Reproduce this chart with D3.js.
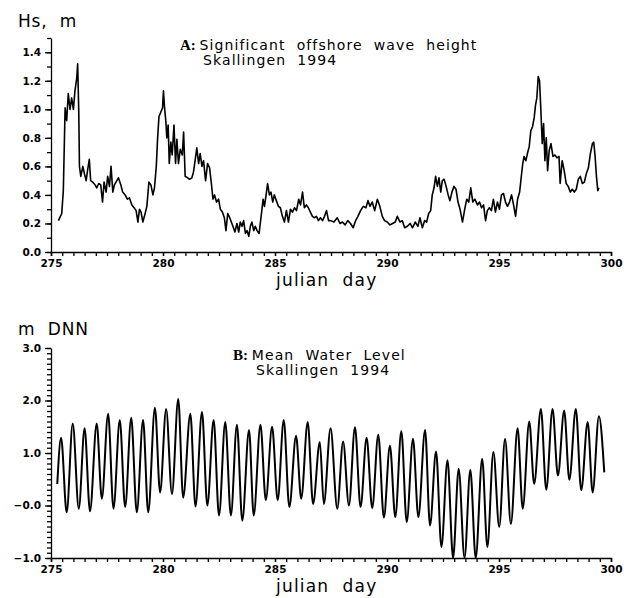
<!DOCTYPE html>
<html>
<head>
<meta charset="utf-8">
<script src="https://cdn.jsdelivr.net/npm/d3@7"></script>
<style>
  body { margin: 0; background: #fff; }
  text { font-family: "DejaVu Sans", sans-serif; fill: #000; white-space: pre; }
  .axis path, .axis line { stroke: #000; stroke-width: 1.3px; }
  .axis text { font-family: "DejaVu Sans", sans-serif; font-size: 10.5px; font-weight: bold; }
  .series { fill: none; stroke: #000; stroke-linejoin: round; }
</style>
</head>
<body>
<svg class="chart"></svg>
<script>
var W = 624, H = 598;

// julian day axis labels (both panels)
var dayTicks = [275, 280, 285, 290, 295, 300];
var hsTicks = [0.0, 0.2, 0.4, 0.6, 0.8, 1.0, 1.2, 1.4];
var wlTicks = [-1, 0, 1, 2, 3];

// A: significant offshore wave height, m
var hsDay = [275.33, 275.48, 275.55, 275.63, 275.70, 275.77, 275.85, 275.92, 276.00, 276.07,
  276.15, 276.19, 276.24, 276.27, 276.33, 276.42, 276.49, 276.57, 276.64, 276.71,
  276.77, 276.86, 276.97, 277.04, 277.13, 277.22, 277.30, 277.37, 277.46, 277.53,
  277.61, 277.68, 277.76, 277.83, 277.94, 278.01, 278.12, 278.20, 278.31, 278.41,
  278.50, 278.61, 278.71, 278.80, 278.88, 278.95, 279.02, 279.10, 279.17, 279.28,
  279.37, 279.46, 279.55, 279.62, 279.70, 279.76, 279.82, 279.90, 279.98, 280.02,
  280.07, 280.13, 280.17, 280.23, 280.28, 280.35, 280.41, 280.49, 280.56, 280.62,
  280.69, 280.77, 280.86, 280.92, 280.99, 281.10, 281.19, 281.29, 281.36, 281.44,
  281.51, 281.59, 281.66, 281.74, 281.81, 281.90, 281.99, 282.08, 282.16, 282.23,
  282.30, 282.39, 282.48, 282.56, 282.65, 282.74, 282.81, 282.89, 282.98, 283.05,
  283.12, 283.21, 283.30, 283.38, 283.45, 283.53, 283.60, 283.68, 283.75, 283.83,
  283.90, 283.97, 284.05, 284.12, 284.20, 284.29, 284.38, 284.47, 284.53, 284.62,
  284.67, 284.75, 284.82, 284.90, 284.97, 285.06, 285.15, 285.24, 285.33, 285.42,
  285.51, 285.60, 285.69, 285.78, 285.87, 285.96, 286.06, 286.14, 286.23, 286.31,
  286.40, 286.49, 286.58, 286.67, 286.76, 286.85, 286.94, 287.03, 287.12, 287.21,
  287.30, 287.39, 287.48, 287.63, 287.78, 287.90, 288.01, 288.13, 288.25, 288.37,
  288.49, 288.60, 288.70, 288.82, 288.94, 289.06, 289.15, 289.24, 289.34, 289.45,
  289.57, 289.68, 289.79, 289.89, 290.01, 290.13, 290.25, 290.37, 290.46, 290.58,
  290.68, 290.79, 290.91, 291.03, 291.14, 291.26, 291.38, 291.47, 291.58, 291.68,
  291.77, 291.86, 291.95, 292.02, 292.10, 292.17, 292.25, 292.32, 292.40, 292.47,
  292.55, 292.64, 292.73, 292.81, 292.90, 292.99, 293.08, 293.17, 293.26, 293.37,
  293.47, 293.56, 293.65, 293.74, 293.83, 293.92, 294.04, 294.13, 294.22, 294.31,
  294.40, 294.48, 294.57, 294.66, 294.75, 294.84, 294.93, 295.02, 295.11, 295.20,
  295.29, 295.38, 295.47, 295.56, 295.65, 295.74, 295.83, 295.92, 296.01, 296.06,
  296.12, 296.20, 296.27, 296.35, 296.42, 296.50, 296.57, 296.63, 296.69, 296.75,
  296.81, 296.87, 296.93, 296.99, 297.05, 297.11, 297.17, 297.24, 297.32, 297.41,
  297.50, 297.59, 297.68, 297.73, 297.82, 297.91, 298.00, 298.09, 298.18, 298.27,
  298.36, 298.45, 298.54, 298.63, 298.72, 298.81, 298.90, 298.99, 299.08, 299.17,
  299.23, 299.29, 299.35, 299.41, 299.46];
var hsVal = [0.22, 0.27, 0.43, 1.01, 0.92, 1.11, 1.00, 1.08, 1.00, 1.13,
  1.22, 1.32, 0.98, 0.60, 0.53, 0.60, 0.55, 0.50, 0.58, 0.65,
  0.50, 0.49, 0.47, 0.45, 0.48, 0.47, 0.35, 0.49, 0.42, 0.53,
  0.46, 0.60, 0.42, 0.47, 0.50, 0.52, 0.47, 0.42, 0.40, 0.37,
  0.38, 0.33, 0.31, 0.29, 0.21, 0.30, 0.28, 0.21, 0.25, 0.32,
  0.49, 0.47, 0.40, 0.45, 0.60, 0.80, 0.95, 0.98, 1.01, 1.13,
  1.01, 0.91, 0.80, 0.89, 0.62, 0.77, 0.68, 0.89, 0.62, 0.79,
  0.62, 0.72, 0.68, 0.84, 0.53, 0.52, 0.51, 0.52, 0.56, 0.65,
  0.73, 0.62, 0.69, 0.60, 0.64, 0.50, 0.62, 0.59, 0.48, 0.37,
  0.40, 0.35, 0.37, 0.30, 0.28, 0.24, 0.15, 0.27, 0.24, 0.21,
  0.18, 0.14, 0.20, 0.14, 0.21, 0.18, 0.22, 0.13, 0.15, 0.11,
  0.18, 0.21, 0.15, 0.18, 0.15, 0.13, 0.25, 0.37, 0.32, 0.42,
  0.48, 0.40, 0.42, 0.35, 0.40, 0.36, 0.32, 0.31, 0.25, 0.21,
  0.29, 0.21, 0.30, 0.28, 0.31, 0.29, 0.37, 0.33, 0.42, 0.31,
  0.33, 0.31, 0.28, 0.25, 0.24, 0.25, 0.22, 0.24, 0.22, 0.25,
  0.29, 0.22, 0.22, 0.21, 0.24, 0.20, 0.21, 0.19, 0.22, 0.20,
  0.17, 0.22, 0.25, 0.29, 0.32, 0.31, 0.36, 0.32, 0.35, 0.29,
  0.37, 0.32, 0.25, 0.22, 0.21, 0.19, 0.20, 0.21, 0.25, 0.21,
  0.22, 0.17, 0.18, 0.20, 0.17, 0.21, 0.18, 0.24, 0.17, 0.22,
  0.21, 0.27, 0.29, 0.40, 0.45, 0.53, 0.46, 0.52, 0.42, 0.50,
  0.51, 0.46, 0.40, 0.36, 0.42, 0.46, 0.44, 0.35, 0.30, 0.21,
  0.30, 0.37, 0.35, 0.45, 0.35, 0.37, 0.33, 0.35, 0.31, 0.33,
  0.22, 0.29, 0.31, 0.29, 0.37, 0.28, 0.35, 0.30, 0.40, 0.41,
  0.35, 0.32, 0.35, 0.40, 0.33, 0.25, 0.37, 0.42, 0.55, 0.62,
  0.67, 0.64, 0.69, 0.74, 0.85, 0.88, 0.94, 1.03, 1.08, 1.23,
  1.20, 0.99, 0.76, 0.90, 0.64, 0.80, 0.57, 0.71, 0.76, 0.67,
  0.68, 0.66, 0.67, 0.48, 0.64, 0.57, 0.48, 0.46, 0.42, 0.44,
  0.42, 0.44, 0.51, 0.53, 0.48, 0.49, 0.55, 0.59, 0.69, 0.76,
  0.77, 0.67, 0.53, 0.43, 0.45];

// B: mean water level, m DNN (turning points of the tide record)
var wlDay = [275.28, 275.45, 275.70, 275.97, 276.24, 276.50, 276.74, 277.04, 277.27, 277.55,
  277.79, 278.07, 278.31, 278.58, 278.83, 279.11, 279.34, 279.64, 279.87, 280.14,
  280.40, 280.68, 280.90, 281.22, 281.45, 281.74, 281.98, 282.26, 282.50, 282.78,
  283.03, 283.30, 283.54, 283.84, 284.05, 284.35, 284.59, 284.87, 285.12, 285.39,
  285.64, 285.94, 286.17, 286.46, 286.70, 287.00, 287.18, 287.48, 287.78, 288.04,
  288.30, 288.57, 288.82, 289.09, 289.34, 289.61, 289.86, 290.13, 290.37, 290.64,
  290.88, 291.16, 291.40, 291.70, 291.92, 292.19, 292.43, 292.70, 292.95, 293.20,
  293.46, 293.72, 293.96, 294.25, 294.48, 294.75, 295.01, 295.27, 295.53, 295.83,
  296.06, 296.35, 296.57, 296.87, 297.11, 297.39, 297.63, 297.91, 298.14, 298.43,
  298.67, 298.96, 299.18, 299.46, 299.70];
var wlVal = [0.41, 1.29, -0.13, 1.56, -0.06, 1.47, -0.11, 1.56, 0.13, 1.75,
  -0.06, 1.63, -0.03, 1.67, -0.13, 1.63, -0.13, 1.86, 0.25, 1.84,
  0.22, 2.03, 0.15, 1.75, -0.02, 1.78, 0.00, 1.63, -0.19, 1.59,
  -0.19, 1.54, -0.29, 1.44, -0.19, 1.54, 0.10, 1.50, 0.10, 1.63,
  -0.03, 1.33, 0.13, 1.59, 0.03, 1.21, 0.03, 1.47, -0.06, 1.22,
  0.00, 1.49, -0.03, 1.29, -0.05, 1.35, -0.23, 1.14, -0.22, 1.42,
  -0.32, 1.27, -0.22, 1.44, -0.38, 1.03, -0.79, 0.86, -1.00, 0.70,
  -1.00, 0.68, -1.00, 0.89, -0.79, 1.02, -0.41, 1.27, -0.35, 1.47,
  -0.06, 1.60, 0.41, 1.84, 0.30, 1.84, 0.57, 1.81, 0.49, 1.84,
  0.29, 1.59, 0.25, 1.70, 0.63];

var svg = d3.select(".chart")
  .attr("width", W)
  .attr("height", H);

function panel(opt) {
  var x = d3.scaleLinear().domain([275, 300]).range([51, 611]);
  var y = d3.scaleLinear().domain(opt.domain).range(opt.range);
  var g = svg.append("g");

  // minor ticks first, then labelled ones
  g.append("g")
    .attr("class", "axis")
    .attr("transform", "translate(0," + opt.range[0] + ")")
    .call(d3.axisBottom(x).tickValues(d3.range(275, 300.01, 0.5)).tickSize(4).tickFormat(""));
  g.append("g")
    .attr("class", "axis")
    .attr("transform", "translate(0," + opt.range[0] + ")")
    .call(d3.axisBottom(x).tickValues(dayTicks).tickSize(4).tickSizeOuter(0).tickPadding(4))
    .call(function(a) { a.select(".domain").remove(); });

  g.append("g")
    .attr("class", "axis")
    .attr("transform", "translate(51,0)")
    .call(d3.axisLeft(y).tickValues(d3.range(opt.domain[0], opt.domain[1] + 0.001, 0.1)).tickSize(4).tickSizeOuter(0).tickFormat(""));
  g.append("g")
    .attr("class", "axis")
    .attr("transform", "translate(51,0)")
    .call(d3.axisLeft(y).tickValues(opt.ticks).tickSize(6).tickPadding(4).tickFormat(opt.fmt))
    .call(function(a) { a.select(".domain").remove(); });

  var line = d3.line()
    .x(function(d) { return x(d[0]); })
    .y(function(d) { return y(d[1]); })
    .curve(opt.curve);

  g.append("path")
    .datum(d3.zip(opt.days, opt.vals))
    .attr("class", "series")
    .attr("stroke-width", opt.sw)
    .attr("d", line);

  g.append("text")
    .attr("x", 18).attr("y", opt.unitY)
    .style("font-size", "17px")
    .style("letter-spacing", "0.8px")
    .text(opt.unit);

  g.append("text")
    .attr("x", 276).attr("y", opt.range[0] + 34)
    .style("font-size", "17px")
    .style("letter-spacing", "1.2px")
    .text("julian  day");

  var t = g.append("text")
    .attr("x", opt.titleX).attr("y", opt.titleY)
    .style("font-size", "14px")
    .style("letter-spacing", "1.1px");
  t.append("tspan")
    .style("font-family", "Liberation Serif, serif")
    .style("font-weight", "bold")
    .style("font-size", "15px")
    .style("letter-spacing", "0px")
    .text(opt.tag + " ");
  t.append("tspan").text(opt.title);
  g.append("text")
    .attr("x", opt.titleX + 23).attr("y", opt.titleY + 15)
    .style("font-size", "14px")
    .style("letter-spacing", "1.1px")
    .text("Skallingen  1994");
}

panel({
  domain: [0, 1.5], range: [252, 38], ticks: hsTicks,
  fmt: d3.format(".1f"),
  days: hsDay, vals: hsVal, curve: d3.curveLinear, sw: 1.6,
  unit: "Hs,  m", unitY: 27,
  tag: "A:", title: "Significant  offshore  wave  height",
  titleX: 180, titleY: 50
});

panel({
  domain: [-1, 3], range: [558, 348], ticks: wlTicks,
  fmt: function(d) { return d === 0 ? "\u22120.0" : d3.format(".1f")(d).replace("-", "\u2212"); },
  days: wlDay, vals: wlVal, curve: d3.curveMonotoneX, sw: 2,
  unit: "m  DNN", unitY: 335,
  tag: "B:", title: "Mean  Water  Level",
  titleX: 233, titleY: 360
});
</script>
</body>
</html>
